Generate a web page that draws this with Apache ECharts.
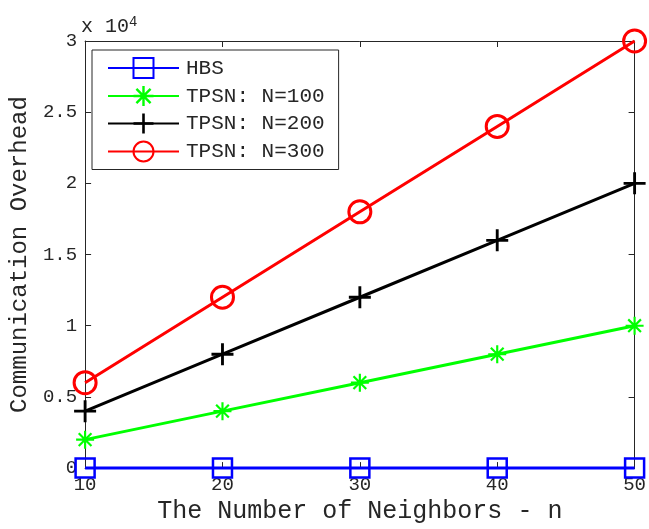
<!DOCTYPE html>
<html>
<head>
<meta charset="utf-8">
<script src="https://cdn.jsdelivr.net/npm/echarts@6/dist/echarts.min.js"></script>
<style>html,body{margin:0;padding:0;background:#fff;}#c{width:649px;height:529px;}</style>
</head>
<body>
<div id="c"></div>
<script>
const neighbors = [10, 20, 30, 40, 50];
const hbs = [0, 0, 0, 0, 0];
const tpsn100 = [2000, 4000, 6000, 8000, 10000];
const tpsn200 = [4000, 8000, 12000, 16000, 20000];
const tpsn300 = [6000, 12000, 18000, 24000, 30000];
const seriesNames = ['HBS', 'TPSN: N=100', 'TPSN: N=200', 'TPSN: N=300'];
const xTitle = 'The Number of Neighbors - n';
const yTitle = 'Communication Overhead';

const FONT = '"Liberation Mono", "DejaVu Sans Mono", monospace';
const AX = '#262626';
const plusPath = 'path://M-1.3,-10 L1.3,-10 L1.3,10 L-1.3,10 Z M-10,-1.3 L10,-1.3 L10,1.3 L-10,1.3 Z';
const starPath = 'path://M-1.2,-10 L1.2,-10 L1.2,10 L-1.2,10 Z M-10,-1.2 L10,-1.2 L10,1.2 L-10,1.2 Z M-6.22,-7.92 L7.92,6.22 L6.22,7.92 L-7.92,-6.22 Z M-7.92,6.22 L6.22,-7.92 L7.92,-6.22 L-6.22,7.92 Z';

function pts(ys) { return neighbors.map((x, i) => [x, ys[i]]); }

const chart = echarts.init(document.getElementById('c'), null, {renderer: 'canvas'});
const xBase = {type: 'value', min: 10, max: 50, interval: 10, splitLine: {show: false},
  axisLine: {show: true, onZero: false, lineStyle: {color: AX, width: 1}},
  axisTick: {show: true, inside: true, length: 6, lineStyle: {color: AX}}};
const yBase = {type: 'value', min: 0, max: 30000, interval: 5000, splitLine: {show: false},
  axisLine: {show: true, onZero: false, lineStyle: {color: AX, width: 1}},
  axisTick: {show: true, inside: true, length: 6, lineStyle: {color: AX}}};

chart.setOption({
  animation: false,
  backgroundColor: '#fff',
  grid: {left: 80, right: 13, top: 41, bottom: 52, containLabel: false},
  xAxis: [
    Object.assign({}, xBase, {position: 'bottom', name: xTitle, nameLocation: 'middle', nameGap: 22,
      nameTextStyle: {fontFamily: FONT, fontSize: 25, color: AX},
      axisLabel: {fontFamily: FONT, fontSize: 19, color: AX, margin: 7}}),
    Object.assign({}, xBase, {position: 'top', axisLabel: {show: false}})
  ],
  yAxis: [
    Object.assign({}, yBase, {position: 'left', name: yTitle, nameLocation: 'middle', nameGap: 50,
      nameTextStyle: {fontFamily: FONT, fontSize: 24, color: AX},
      axisLabel: {fontFamily: FONT, fontSize: 19, color: AX, margin: 8,
        formatter: v => String(v / 10000)}}),
    Object.assign({}, yBase, {position: 'right', axisLabel: {show: false}})
  ],
  legend: {
    orient: 'vertical', left: 92, top: 50,
    padding: [7, 14, 7, 15],
    itemWidth: 71, itemHeight: 25, itemGap: 6.5,
    backgroundColor: '#fff', borderColor: AX, borderWidth: 1, borderRadius: 0,
    textStyle: {fontFamily: FONT, fontSize: 21, color: AX, padding: [0, 0, 0, 2]},
    data: seriesNames
  },
  graphic: [{
    type: 'text', left: 81, top: 15,
    style: {text: 'x 10{s|4}', fontFamily: FONT, fontSize: 20, fill: AX,
      rich: {s: {fontFamily: FONT, fontSize: 14, verticalAlign: 'top', padding: [0, 0, 10, 0]}}}
  }],
  series: [
    {name: seriesNames[0], type: 'line', data: pts(hbs), symbol: 'rect', symbolSize: 19,
      lineStyle: {color: '#0000ff', width: 3}, itemStyle: {color: 'rgba(0,0,0,0)', borderColor: '#0000ff', borderWidth: 2.5}, z: 5},
    {name: seriesNames[1], type: 'line', data: pts(tpsn100), symbol: starPath, symbolSize: 18,
      lineStyle: {color: '#00ff00', width: 3}, itemStyle: {color: '#00ff00', borderWidth: 0}},
    {name: seriesNames[2], type: 'line', data: pts(tpsn200), symbol: plusPath, symbolSize: 22,
      lineStyle: {color: '#000000', width: 3}, itemStyle: {color: '#000000', borderWidth: 0}},
    {name: seriesNames[3], type: 'line', data: pts(tpsn300), symbol: 'circle', symbolSize: 22,
      lineStyle: {color: '#ff0000', width: 3}, itemStyle: {color: 'rgba(0,0,0,0)', borderColor: '#ff0000', borderWidth: 3}}
  ].map(s => Object.assign(s, {showAllSymbol: true, clip: false, emphasis: {disabled: true}}))
});
</script>
</body>
</html>
